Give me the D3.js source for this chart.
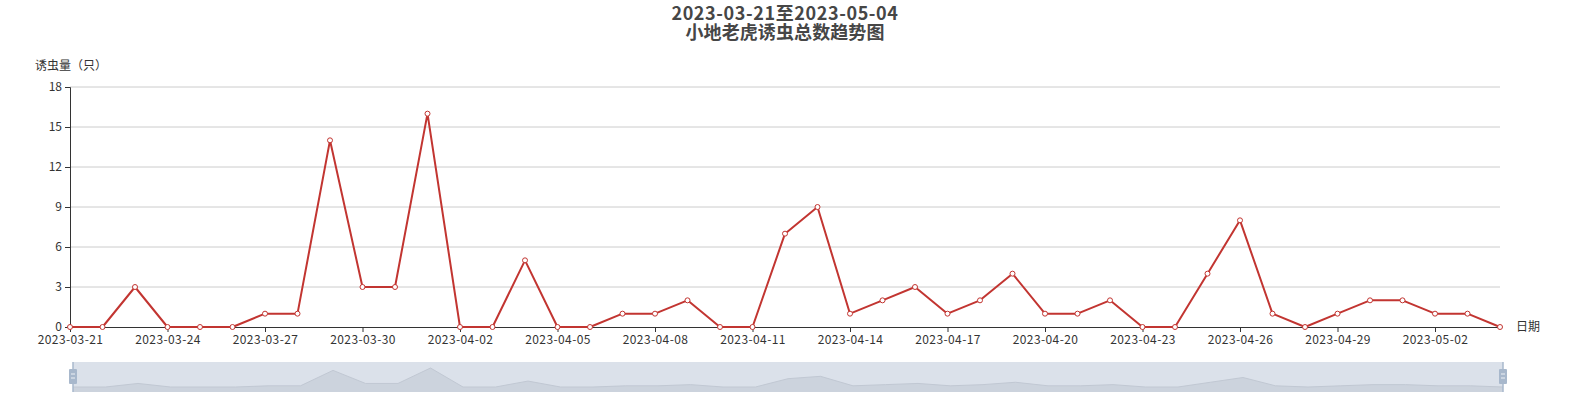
<!DOCTYPE html>
<html>
<head>
<meta charset="utf-8">
<script src="https://cdn.jsdelivr.net/npm/d3@7"></script>
<style>
  body { margin: 0; background: #fff; }
  text { font-family: "Noto Sans CJK SC", "Noto Sans", sans-serif; }
</style>
</head>
<body>
<div id="chart"></div>
<script>
'use strict';

const dates = [
  '2023-03-21', '2023-03-22', '2023-03-23', '2023-03-24', '2023-03-25', '2023-03-26',
  '2023-03-27', '2023-03-28', '2023-03-29', '2023-03-30', '2023-03-31', '2023-04-01',
  '2023-04-02', '2023-04-03', '2023-04-04', '2023-04-05', '2023-04-06', '2023-04-07',
  '2023-04-08', '2023-04-09', '2023-04-10', '2023-04-11', '2023-04-12', '2023-04-13',
  '2023-04-14', '2023-04-15', '2023-04-16', '2023-04-17', '2023-04-18', '2023-04-19',
  '2023-04-20', '2023-04-21', '2023-04-22', '2023-04-23', '2023-04-24', '2023-04-25',
  '2023-04-26', '2023-04-27', '2023-04-28', '2023-04-29', '2023-04-30', '2023-05-01',
  '2023-05-02', '2023-05-03', '2023-05-04'
];
const counts = [
  0, 0, 3, 0, 0, 0,
  1, 1, 14, 3, 3, 16,
  0, 0, 5, 0, 0, 1,
  1, 2, 0, 0, 7, 9,
  1, 2, 3, 1, 2, 4,
  1, 1, 2, 0, 0, 4,
  8, 1, 0, 1, 2, 2,
  1, 1, 0
];
const yTicks = [0, 3, 6, 9, 12, 15, 18];
const titleLines = ['2023-03-21至2023-05-04', '小地老虎诱虫总数趋势图'];

const width = 1571, height = 400;
const grid = { left: 70, right: 1500, top: 87, bottom: 327 };

const svg = d3.select('#chart').append('svg')
    .attr('width', width)
    .attr('height', height);

// title
svg.selectAll('.title')
    .data(titleLines)
  .enter().append('text')
    .attr('x', 785)
    .attr('y', (d, i) => 20 + i * 18.5)
    .attr('text-anchor', 'middle')
    .style('font-size', '18px')
    .style('font-weight', 'bold')
    .style('letter-spacing', (d, i) => i === 0 ? '0.6px' : '0.1px')
    .style('fill', '#464646')
    .text(d => d);

const x = d3.scalePoint()
    .domain(dates)
    .range([grid.left, grid.right]);
const y = d3.scaleLinear()
    .domain([0, 18])
    .range([grid.bottom, grid.top]);

// grid lines
svg.selectAll('.grid')
    .data(yTicks.filter(d => d > 0))
  .enter().append('line')
    .attr('x1', grid.left).attr('x2', grid.right)
    .attr('y1', d => y(d)).attr('y2', d => y(d))
    .style('stroke', '#ccc')
    .style('stroke-width', 1);

// y axis
const yAxis = svg.append('g')
    .attr('transform', `translate(${grid.left},0)`)
    .call(d3.axisLeft(y).tickValues(yTicks).tickSize(5).tickPadding(3));
yAxis.select('.domain').attr('stroke', '#333');
yAxis.selectAll('.tick line').attr('stroke', '#333');
yAxis.selectAll('.tick text')
    .style('font-size', '12px')
    .style('fill', '#333');

// x axis
const labelDates = dates.filter((d, i) => i % 3 === 0);
const xAxis = svg.append('g')
    .attr('transform', `translate(0,${grid.bottom})`)
    .call(d3.axisBottom(x).tickValues(labelDates).tickSize(5).tickSizeOuter(0).tickPadding(3));
xAxis.select('.domain').attr('stroke', '#333');
xAxis.selectAll('.tick line').attr('stroke', '#333');
xAxis.selectAll('.tick text')
    .style('font-size', '12px')
    .style('letter-spacing', '0.4px')
    .style('fill', '#333');

// axis names
svg.append('text')
    .attr('x', 35).attr('y', 70)
    .style('font-size', '12px')
    .style('fill', '#333')
    .text('诱虫量（只）');
svg.append('text')
    .attr('x', 1516).attr('y', 331)
    .style('font-size', '12px')
    .style('fill', '#333')
    .text('日期');

// series
const line = d3.line()
    .x((d, i) => x(dates[i]))
    .y(d => y(d));

svg.append('path')
    .datum(counts)
    .attr('d', line)
    .style('fill', 'none')
    .style('stroke', '#c23531')
    .style('stroke-width', 2)
    .style('stroke-linejoin', 'round');

svg.selectAll('.dot')
    .data(counts)
  .enter().append('circle')
    .attr('cx', (d, i) => x(dates[i]))
    .attr('cy', d => y(d))
    .attr('r', 2.5)
    .style('fill', '#fff')
    .style('stroke', '#c23531')
    .style('stroke-width', 1);

// data zoom slider
const zLeft = 73, zRight = 1503, zTop = 362, zBottom = 392;
const zx = d3.scalePoint().domain(dates).range([zLeft, zRight]);
const zy = d3.scaleLinear().domain([0, d3.max(counts)]).range([387, 368]);

svg.append('rect')
    .attr('x', zLeft).attr('y', zTop)
    .attr('width', zRight - zLeft).attr('height', zBottom - zTop)
    .style('fill', '#dbe1ea');

const area = d3.area()
    .x((d, i) => zx(dates[i]))
    .y0(zBottom)
    .y1(d => zy(d));
svg.append('path')
    .datum(counts)
    .attr('d', area)
    .style('fill', '#ccd3dd');
svg.append('path')
    .datum(counts)
    .attr('d', d3.line().x((d, i) => zx(dates[i])).y(d => zy(d)))
    .style('fill', 'none')
    .style('stroke', '#c1c8d3')
    .style('stroke-width', 1);

[zLeft, zRight].forEach(hx => {
  svg.append('line')
      .attr('x1', hx).attr('x2', hx)
      .attr('y1', zTop).attr('y2', zBottom)
      .style('stroke', '#a8b8cc')
      .style('stroke-width', 1.5);
  svg.append('rect')
      .attr('x', hx - 4).attr('y', 369)
      .attr('width', 8).attr('height', 15)
      .attr('rx', 1)
      .style('fill', '#a8b8cc');
  [374, 378].forEach(ly => {
    svg.append('line')
        .attr('x1', hx - 2).attr('x2', hx + 2)
        .attr('y1', ly).attr('y2', ly)
        .style('stroke', '#eef1f5')
        .style('stroke-width', 1);
  });
});
</script>
</body>
</html>
